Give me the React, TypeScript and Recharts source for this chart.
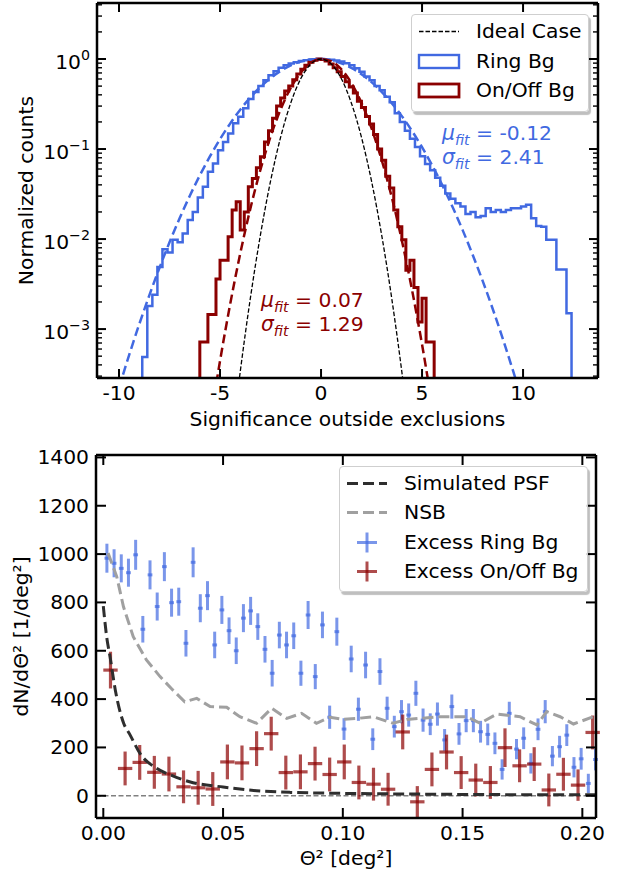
import React from "react";
import { ComposedChart, Line, Scatter, ErrorBar, XAxis, YAxis, ReferenceLine, Label } from "recharts";

const FONT = "'DejaVu Sans', sans-serif";
const FS = 20.3;
const RING = "#4169e1";
const ONOFF = "#8b0000";
const RING_ALPHA = "rgba(65,105,225,0.7)";
const ONOFF_ALPHA = "rgba(139,0,0,0.7)";
const FLOOR = 1e-6;

// ---- top panel: significance distributions (normalized to peak) ----
const ringBinStart = -8.85;
const ringBinWidth = 0.25;
const ringCounts = [
  4.9e-4, 1.8e-3, 2.4e-3, 4.9e-3, 7.7e-3, 7.1e-3, 9.8e-3, 9.2e-3, 0.0115, 0.0163,
  0.02, 0.029, 0.038, 0.056, 0.069, 0.097, 0.12, 0.149, 0.193, 0.228,
  0.284, 0.36, 0.43, 0.5, 0.58, 0.66, 0.73, 0.8, 0.85, 0.89,
  0.92, 0.95, 0.97, 0.99, 0.99, 1.0, 0.99, 0.98, 0.96, 0.94,
  0.9, 0.85, 0.79, 0.72, 0.64, 0.58, 0.5, 0.45, 0.38, 0.33,
  0.25, 0.2, 0.16, 0.13, 0.105, 0.083, 0.068, 0.058, 0.048, 0.039,
  0.032, 0.028, 0.025, 0.023, 0.019, 0.02, 0.0175, 0.018, 0.022, 0.02,
  0.021, 0.02, 0.021, 0.022, 0.022, 0.023, 0.024, 0.017, 0.014, 0.0137,
  0.0098, 0.0098, 0.0046, 0.0046, 0.0015,
];
const onoffBinStart = -6.0;
const onoffBinWidth = 0.2;
const onoffCounts = [
  7.2e-4, 7.2e-4, 1.45e-3, 1.45e-3, 3.6e-3, 5.8e-3, 5.8e-3, 0.0106, 0.021, 0.026,
  0.0126, 0.02, 0.038, 0.047, 0.062, 0.082, 0.12, 0.16, 0.22, 0.3,
  0.37, 0.44, 0.5, 0.59, 0.68, 0.77, 0.85, 0.92, 0.97, 1.0,
  0.99, 0.95, 0.88, 0.8, 0.72, 0.64, 0.56, 0.49, 0.42, 0.34,
  0.29, 0.23, 0.19, 0.145, 0.1, 0.075, 0.05, 0.037, 0.021, 0.0137,
  0.0098, 0.0045, 0.0058, 0.0029, 0.0012, 2.2e-3, 7.2e-4, 7.2e-4,
];

const ringFitX = [-10, -9.5, -9, -8.5, -8, -7.5, -7, -6.5, -6, -5.5, -5, -4.5, -4, -3.5, -3, -2.5, -2, -1.5, -1, -0.5, 0, 0.5, 1, 1.5, 2, 2.5, 3, 3.5, 4, 4.5, 5, 5.5, 6, 6.5, 7, 7.5, 8, 8.5, 9, 9.5, 10];
const ringFitY = [2.24e-4, 5.14e-4, 1.13e-3, 2.37e-3, 4.77e-3, 9.2e-3, 0.017, 0.0301, 0.051, 0.0827, 0.1287, 0.1917, 0.2737, 0.374, 0.4897, 0.614, 0.7377, 0.8488, 0.9355, 0.9876, 0.9988, 0.9674, 0.8976, 0.7978, 0.6792, 0.5538, 0.4326, 0.3237, 0.232, 0.1593, 0.1047, 0.0659, 0.0398, 0.023, 0.01273, 6.74e-3, 3.43e-3, 1.67e-3, 7.77e-4, 3.47e-4, 1.48e-4];
const onoffFitX = [-5.5, -5, -4.5, -4, -3.5, -3, -2.5, -2, -1.5, -1, -0.5, 0, 0.5, 1, 1.5, 2, 2.5, 3, 3.5, 4, 4.5, 5, 5.5];
const onoffFitY = [8.95e-5, 4.43e-4, 1.88e-3, 6.89e-3, 0.0217, 0.0589, 0.1374, 0.276, 0.4768, 0.709, 0.907, 0.9985, 0.946, 0.7711, 0.541, 0.3265, 0.1696, 0.0758, 0.0292, 9.66e-3, 2.75e-3, 6.74e-4, 1.42e-4];
const idealX = [-4.5, -4, -3.5, -3, -2.5, -2, -1.5, -1, -0.5, 0, 0.5, 1, 1.5, 2, 2.5, 3, 3.5, 4, 4.5];
const idealY = [4.0e-5, 3.35e-4, 2.19e-3, 0.0111, 0.0439, 0.1353, 0.3247, 0.6065, 0.8825, 1, 0.8825, 0.6065, 0.3247, 0.1353, 0.0439, 0.0111, 2.19e-3, 3.35e-4, 4.0e-5];

const sigTicks = [-10, -5, 0, 5, 10];
const logTicks = [
  3e-4, 4e-4, 5e-4, 6e-4, 7e-4, 8e-4, 9e-4,
  1e-3, 2e-3, 3e-3, 4e-3, 5e-3, 6e-3, 7e-3, 8e-3, 9e-3,
  0.01, 0.02, 0.03, 0.04, 0.05, 0.06, 0.07, 0.08, 0.09,
  0.1, 0.2, 0.3, 0.4, 0.5, 0.6, 0.7, 0.8, 0.9,
  1, 2, 3, 4,
];

// ---- bottom panel: theta^2 excess ----
const ringExcessX = [
  0.0015, 0.0045, 0.0075, 0.0105, 0.0135, 0.0165, 0.0195, 0.0225, 0.0255, 0.0285,
  0.0315, 0.0345, 0.0375, 0.0405, 0.0435, 0.0465, 0.0495, 0.0525, 0.0555, 0.0585,
  0.0615, 0.0645, 0.0675, 0.0705, 0.0735, 0.0765, 0.0795, 0.0825, 0.0855, 0.0885,
  0.0915, 0.0945, 0.0975, 0.1005, 0.1035, 0.1065, 0.1095, 0.1125, 0.1155, 0.1185,
  0.1215, 0.1245, 0.1275, 0.1305, 0.1335, 0.1365, 0.1395, 0.1425, 0.1455, 0.1485,
  0.1515, 0.1545, 0.1575, 0.1605, 0.1635, 0.1665, 0.1695, 0.1725, 0.1755, 0.1785,
  0.1815, 0.1845, 0.1875, 0.1905, 0.1935, 0.1965, 0.1995, 0.2025, 0.2055,
];
const ringExcessY = [
  983, 962, 941, 923, 997, 689, 914, 783, 948, 799,
  803, 631, 966, 776, 828, 624, 769, 683, 600, 735,
  765, 700, 606, 507, 665, 624, 662, 507, 748, 493,
  707, 325, 679, 276, 566, 358, 541, 234, 514, 362,
  286, 348, 334, 424, 313, 296, 338, 231, 369, 256,
  311, 311, 265, 254, 217, 109, 341, 193, 238, 134,
  275, 348, 164, 203, 251, 118, 153, 51, 150,
];
const ringExcessErr = [
  60, 58, 58, 58, 62, 55, 60, 58, 60, 58,
  58, 55, 62, 58, 60, 55, 58, 55, 55, 58,
  58, 55, 55, 55, 55, 55, 55, 52, 58, 52,
  55, 48, 58, 45, 55, 48, 55, 45, 55, 48,
  45, 48, 48, 52, 48, 45, 48, 45, 50, 45,
  48, 48, 45, 45, 45, 42, 48, 42, 45, 42,
  45, 48, 42, 45, 45, 42, 45, 40, 45,
];
const ringBinHalf = 0.001;

const onoffExcessX = [
  0.003, 0.0091, 0.0152, 0.0213, 0.0274, 0.0335, 0.0396, 0.0457, 0.0518, 0.0579,
  0.064, 0.0701, 0.0762, 0.0823, 0.0884, 0.0945, 0.1006, 0.1067, 0.1128, 0.1189,
  0.125, 0.1311, 0.1372, 0.1433, 0.1494, 0.1555, 0.1616, 0.1677, 0.1738, 0.1799,
  0.186, 0.1921, 0.1982, 0.2043,
];
const onoffExcessY = [
  520, 113, 138, 97, 90, 37, 33, 28, 140, 136,
  195, 257, 96, 99, 133, 88, 140, 55, 48, 27,
  264, -25, 109, 181, 96, 65, 55, 199, 124, 131,
  24, 89, 44, 262,
];
const onoffExcessErr = [
  76, 70, 72, 68, 72, 68, 70, 70, 72, 72,
  72, 70, 70, 72, 70, 70, 72, 70, 68, 68,
  72, 65, 70, 72, 68, 68, 68, 80, 68, 70,
  68, 68, 65, 70,
];
const onoffBinHalf = 0.003;

const psfX = [0, 0.0014, 0.0028, 0.005, 0.0085, 0.011, 0.0155, 0.022, 0.029, 0.036, 0.05, 0.064, 0.078, 0.1, 0.13, 0.16, 0.2, 0.21];
const psfY = [785, 658, 576, 438, 300, 255, 172, 115, 82, 58, 36, 21, 14, 10, 7, 5, 4, 4];
const nsbX = [0.002, 0.0056, 0.0084, 0.0125, 0.018, 0.0237, 0.029, 0.034, 0.039, 0.0446, 0.0515, 0.057, 0.064, 0.0703, 0.0766, 0.0828, 0.089, 0.0947, 0.1, 0.106, 0.1127, 0.121, 0.1267, 0.1406, 0.1517, 0.1573, 0.1643, 0.174, 0.181, 0.1851, 0.1907, 0.1963, 0.2046];
const nsbY = [1004, 907, 783, 658, 562, 493, 438, 389, 403, 369, 366, 327, 300, 362, 320, 341, 300, 325, 316, 320, 327, 300, 316, 327, 327, 300, 338, 327, 293, 348, 327, 297, 327];

const thetaTicks = [0, 0.05, 0.1, 0.15, 0.2];
const excessTicks = [0, 200, 400, 600, 800, 1000, 1200, 1400];

// ---- helpers ----
const zip = (xs: number[], ys: number[]) => xs.map((x, i) => ({ x, y: ys[i] }));

function histSteps(start: number, width: number, counts: number[]) {
  const pts = [{ x: start, y: FLOOR }];
  counts.forEach((c, i) => pts.push({ x: start + i * width, y: c }));
  const end = start + counts.length * width;
  pts.push({ x: end, y: counts[counts.length - 1] });
  pts.push({ x: end, y: FLOOR });
  return pts;
}

const isDecade = (v: number) => Math.abs(Math.log10(v) - Math.round(Math.log10(v))) < 1e-9;

const fmtLog = (v: number) => {
  const e = Math.round(Math.log10(v));
  return (
    <>
      10<tspan dy={-9} fontSize={FS * 0.7}>{e < 0 ? "\u2212" + -e : String(e)}</tspan>
    </>
  );
};

function Tick(props: any) {
  const { x, y, payload, side, fmt, isMajor, len = 9, labelDy = 7 } = props;
  const v = payload?.value;
  const major = isMajor ? isMajor(v) : true;
  const l = major ? len : 5;
  let x2 = x;
  let y2 = y;
  if (side === "left") x2 = x + l;
  else if (side === "right") x2 = x - l;
  else if (side === "bottom") y2 = y - l;
  else y2 = y + l;
  let label = null;
  if (fmt && major && side === "bottom") {
    label = (
      <text x={x} y={y + 22} textAnchor="middle" fontFamily={FONT} fontSize={FS} fill="#000">
        {fmt(v)}
      </text>
    );
  }
  if (fmt && major && side === "left") {
    label = (
      <text x={x - 7} y={y + labelDy} textAnchor="end" fontFamily={FONT} fontSize={FS} fill="#000">
        {fmt(v)}
      </text>
    );
  }
  return (
    <g>
      <line x1={x} y1={y} x2={x2} y2={y2} stroke="#000" strokeWidth={major ? 2 : 1.4} />
      {label}
    </g>
  );
}

const AXIS_LINE = { stroke: "#000", strokeWidth: 2.5 };
const bare = { tickSize: 0, tickMargin: 0, tickLine: false, axisLine: AXIS_LINE, interval: 0 as const, allowDataOverflow: true };

function xTitle(text: React.ReactNode, dy: number) {
  return (props: any) => {
    const vb = props.viewBox || {};
    return (
      <text x={vb.x + vb.width / 2} y={vb.y + dy} textAnchor="middle" fontFamily={FONT} fontSize={FS} fill="#000">
        {text}
      </text>
    );
  };
}

function yTitle(text: React.ReactNode, x: number) {
  return (props: any) => {
    const vb = props.viewBox || {};
    const cy = vb.y + vb.height / 2;
    return (
      <text x={x} y={cy} transform={`rotate(-90, ${x}, ${cy})`} textAnchor="middle" fontFamily={FONT} fontSize={FS} fill="#000">
        {text}
      </text>
    );
  };
}

const Fit = ({ sym }: { sym: string }) => (
  <>
    <span style={{ fontStyle: "italic" }}>{sym}</span>
    <span style={{ fontStyle: "italic", fontSize: "70%", position: "relative", top: "0.35em" }}>fit</span>
  </>
);

const legendBox = (left: number, top: number, width: number, height: number): React.CSSProperties => ({
  position: "absolute",
  left,
  top,
  width,
  height,
  background: "rgba(255,255,255,0.85)",
  border: "1px solid #cfcfcf",
  borderRadius: 4,
  boxShadow: "2px 3px 1px rgba(0,0,0,0.25)",
  fontFamily: FONT,
  fontSize: FS,
  color: "#000",
});

function Row({ center, children, handle }: { center: number; children: React.ReactNode; handle: React.ReactNode }) {
  return (
    <div style={{ position: "absolute", left: 0, top: center - 14.5, height: 29, width: "100%", lineHeight: "29px", whiteSpace: "nowrap" }}>
      <svg width={44} height={29} style={{ position: "absolute", left: 5, top: 0 }}>
        {handle}
      </svg>
      <span style={{ position: "absolute", left: 64 }}>{children}</span>
    </div>
  );
}

const plus = (color: string) => (
  <g stroke={color} strokeWidth={3}>
    <line x1={12} x2={32} y1={14.5} y2={14.5} />
    <line x1={22} x2={22} y1={4.5} y2={24.5} />
  </g>
);

export default function App() {
  const ringHist = histSteps(ringBinStart, ringBinWidth, ringCounts);
  const onoffHist = histSteps(onoffBinStart, onoffBinWidth, onoffCounts);
  const ringFit = zip(ringFitX, ringFitY);
  const onoffFit = zip(onoffFitX, onoffFitY);
  const ideal = zip(idealX, idealY);

  const ringExcess = ringExcessX.map((x, i) => ({ x, y: ringExcessY[i], ey: ringExcessErr[i], ex: ringBinHalf }));
  const onoffExcess = onoffExcessX.map((x, i) => ({ x, y: onoffExcessY[i], ey: onoffExcessErr[i], ex: onoffBinHalf }));
  const psf = zip(psfX, psfY);
  const nsb = zip(nsbX, nsbY);

  const sigDomain: [number, number] = [-11.09, 13.71];
  const logDomain: [number, number] = [2.86e-4, 4.19];
  const thetaDomain: [number, number] = [-0.00305, 0.2057];
  const excessDomain: [number, number] = [-92, 1410];

  return (
    <div style={{ position: "absolute", left: 0, top: 0, width: 625, height: 876, background: "#fff", fontFamily: FONT }}>
      <div style={{ position: "absolute", left: 0, top: 0 }}>
        <ComposedChart width={625} height={430} margin={{ top: 0, right: 0, bottom: 0, left: 0 }}>
          <Line data={ringHist} xAxisId="b" yAxisId="l" dataKey="y" type="stepAfter" stroke={RING} strokeWidth={2.5} dot={false} isAnimationActive={false} />
          <Line data={onoffHist} xAxisId="b" yAxisId="l" dataKey="y" type="stepAfter" stroke={ONOFF} strokeWidth={3} dot={false} isAnimationActive={false} />
          <Line data={ringFit} xAxisId="b" yAxisId="l" dataKey="y" type="monotone" stroke={RING} strokeWidth={2.5} strokeDasharray="9 4.5" dot={false} isAnimationActive={false} />
          <Line data={onoffFit} xAxisId="b" yAxisId="l" dataKey="y" type="monotone" stroke={ONOFF} strokeWidth={2.5} strokeDasharray="9 4.5" dot={false} isAnimationActive={false} />
          <Line data={ideal} xAxisId="b" yAxisId="l" dataKey="y" type="monotone" stroke="#000" strokeWidth={1.3} strokeDasharray="4.5 2" dot={false} isAnimationActive={false} />

          <XAxis xAxisId="b" type="number" dataKey="x" domain={sigDomain} ticks={sigTicks} height={52} {...bare}
            tick={<Tick side="bottom" fmt={(v: number) => String(v)} />}>
            <Label content={xTitle("Significance outside exclusions", 48)} />
          </XAxis>
          <XAxis xAxisId="t" orientation="top" type="number" dataKey="x" domain={sigDomain} ticks={sigTicks} height={3} {...bare}
            tick={<Tick side="top" />} />
          <YAxis yAxisId="l" type="number" dataKey="y" scale="log" domain={logDomain} ticks={logTicks} width={97} {...bare}
            tick={<Tick side="left" isMajor={isDecade} fmt={fmtLog} labelDy={10} />}>
            <Label content={yTitle("Normalized counts", 33)} />
          </YAxis>
          <YAxis yAxisId="r" orientation="right" type="number" dataKey="y" scale="log" domain={logDomain} ticks={logTicks} width={27} {...bare}
            tick={<Tick side="right" isMajor={isDecade} />} />
        </ComposedChart>
      </div>

      {/* top legend */}
      <div style={legendBox(411, 14, 176, 96)}>
        <Row center={16.7} handle={<line x1={2} x2={42} y1={14.5} y2={14.5} stroke="#000" strokeWidth={1.3} strokeDasharray="4.5 2" />}>
          Ideal Case
        </Row>
        <Row center={46} handle={<rect x={2} y={8} width={40} height={13} fill="none" stroke={RING} strokeWidth={2.4} />}>
          Ring Bg
        </Row>
        <Row center={75} handle={<rect x={2} y={8} width={40} height={13} fill="none" stroke={ONOFF} strokeWidth={2.8} />}>
          On/Off Bg
        </Row>
      </div>

      <div style={{ position: "absolute", left: 442, top: 122, color: RING, fontSize: FS, lineHeight: "22px", whiteSpace: "nowrap" }}>
        <div><Fit sym="μ" /> = -0.12</div>
        <div><Fit sym="σ" /> = 2.41</div>
      </div>
      <div style={{ position: "absolute", left: 261, top: 289, color: ONOFF, fontSize: FS, lineHeight: "22px", whiteSpace: "nowrap" }}>
        <div><Fit sym="μ" /> = 0.07</div>
        <div><Fit sym="σ" /> = 1.29</div>
      </div>

      <div style={{ position: "absolute", left: 0, top: 430 }}>
        <ComposedChart width={625} height={446} margin={{ top: 0, right: 0, bottom: 0, left: 0 }}>
          <ReferenceLine xAxisId="b" yAxisId="l" y={0} stroke="#808080" strokeWidth={1.5} strokeDasharray="5 2.5" />
          <Scatter data={ringExcess} xAxisId="b" yAxisId="l" dataKey="y" shape={() => <g />} isAnimationActive={false}>
            <ErrorBar dataKey="ey" direction="y" width={0} stroke={RING_ALPHA} strokeWidth={3} isAnimationActive={false} />
            <ErrorBar dataKey="ex" direction="x" width={0} stroke={RING_ALPHA} strokeWidth={3} isAnimationActive={false} />
          </Scatter>
          <Scatter data={onoffExcess} xAxisId="b" yAxisId="l" dataKey="y" shape={() => <g />} isAnimationActive={false}>
            <ErrorBar dataKey="ey" direction="y" width={0} stroke={ONOFF_ALPHA} strokeWidth={3.2} isAnimationActive={false} />
            <ErrorBar dataKey="ex" direction="x" width={0} stroke={ONOFF_ALPHA} strokeWidth={3.2} isAnimationActive={false} />
          </Scatter>
          <Line data={nsb} xAxisId="b" yAxisId="l" dataKey="y" type="linear" stroke="#a0a0a0" strokeWidth={3} strokeDasharray="11 5" dot={false} isAnimationActive={false} />
          <Line data={psf} xAxisId="b" yAxisId="l" dataKey="y" type="monotone" stroke="#2e2e2e" strokeWidth={3} strokeDasharray="11 5" dot={false} isAnimationActive={false} />

          <XAxis xAxisId="b" type="number" dataKey="x" domain={thetaDomain} ticks={thetaTicks} height={58} {...bare}
            tick={<Tick side="bottom" len={10} fmt={(v: number) => v.toFixed(2)} />}>
            <Label content={xTitle("\u0398\u00b2 [deg\u00b2]", 47)} />
          </XAxis>
          <XAxis xAxisId="t" orientation="top" type="number" dataKey="x" domain={thetaDomain} ticks={thetaTicks} height={25} {...bare}
            tick={<Tick side="top" len={10} />} />
          <YAxis yAxisId="l" type="number" dataKey="y" domain={excessDomain} ticks={excessTicks} width={96} {...bare}
            tick={<Tick side="left" len={10} fmt={(v: number) => String(v)} />}>
            <Label content={yTitle("dN/d\u0398\u00b2 [1/deg\u00b2]", 28)} />
          </YAxis>
          <YAxis yAxisId="r" orientation="right" type="number" dataKey="y" domain={excessDomain} ticks={excessTicks} width={29} {...bare}
            tick={<Tick side="right" len={10} />} />
        </ComposedChart>
      </div>

      {/* bottom legend */}
      <div style={legendBox(339, 466, 247, 124)}>
        <Row center={16.7} handle={<line x1={2} x2={42} y1={14.5} y2={14.5} stroke="#2e2e2e" strokeWidth={3} strokeDasharray="11 5" />}>
          Simulated PSF
        </Row>
        <Row center={45.7} handle={<line x1={2} x2={42} y1={14.5} y2={14.5} stroke="#a0a0a0" strokeWidth={3} strokeDasharray="11 5" />}>
          NSB
        </Row>
        <Row center={75.2} handle={plus(RING_ALPHA)}>
          Excess Ring Bg
        </Row>
        <Row center={104} handle={plus(ONOFF_ALPHA)}>
          Excess On/Off Bg
        </Row>
      </div>
    </div>
  );
}
